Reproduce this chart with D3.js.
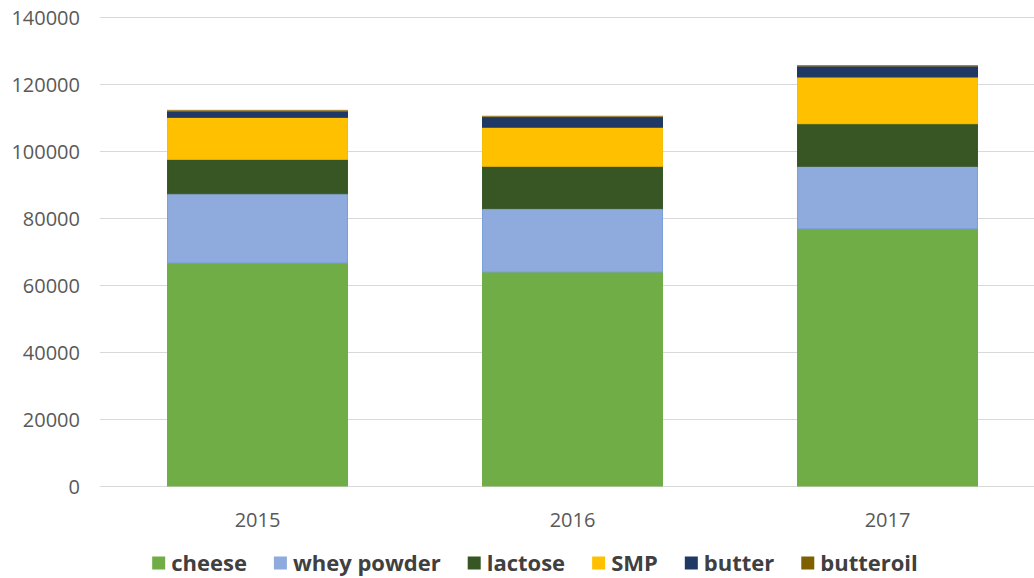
<!DOCTYPE html>
<html>
<head>
<meta charset="utf-8">
<script src="https://d3js.org/d3.v7.min.js"></script>
<style>
    body { margin: 0; background: #fff; }
    .axis text { font-family: "Open Sans", sans-serif; font-size: 20px; fill: #595959; }
    .legend text { font-family: "Open Sans", sans-serif; font-size: 22px; font-weight: bold; fill: #404040; }
</style>
</head>
<body>
<script>
    // data (tonnes)
    const years = ["2015", "2016", "2017"];
    const series = ["cheese", "whey powder", "lactose", "SMP", "butter", "butteroil"];
    const cheese = [66600, 63900, 76800];
    const wheyPowder = [20650, 18900, 18630];
    const lactose = [10270, 12650, 12720];
    const smp = [12540, 11650, 13940];
    const butter = [1880, 3160, 3280];
    const butteroil = [200, 120, 150];
    const yTicks = [0, 20000, 40000, 60000, 80000, 100000, 120000, 140000];
    const colors = ["#70ad47", "#8faadc", "#375623", "#ffc000", "#203864", "#7f6000"];
    const strokes = ["#70ad47", "#7b9fdc", "#3b5a2a", "#f5bd0a", "#203864", "#a08a40"];

    const values = [cheese, wheyPowder, lactose, smp, butter, butteroil];
    const rows = years.map((y, i) => {
        const r = { year: y };
        series.forEach((s, k) => r[s] = values[k][i]);
        return r;
    });

    const width = 1034, height = 578;
    const svg = d3.select("body").append("svg")
        .attr("width", width)
        .attr("height", height);

    const x = d3.scaleBand()
        .domain(years)
        .range([100, 1045])
        .paddingInner(0.4286)
        .paddingOuter(0.2143);

    const y = d3.scaleLinear()
        .domain([0, 140000])
        .range([486, 17]);

    // gridlines
    svg.append("g")
        .selectAll("line")
        .data(yTicks)
        .join("line")
        .attr("x1", 100)
        .attr("x2", width)
        .attr("y1", d => Math.round(y(d)) + 0.5)
        .attr("y2", d => Math.round(y(d)) + 0.5)
        .attr("stroke", "#d9d9d9")
        .attr("stroke-width", 1);

    const yAxis = d3.axisLeft(y).tickValues(yTicks).tickSize(0).tickPadding(0).tickFormat(d3.format("d"));
    svg.append("g")
        .attr("class", "axis")
        .attr("transform", "translate(80,0)")
        .call(yAxis)
        .call(g => g.select(".domain").remove())
        .selectAll("text").attr("dy", "0.35em");

    const stack = d3.stack().keys(series)(rows);

    svg.append("g")
        .selectAll("g")
        .data(stack)
        .join("g")
        .attr("fill", (d, i) => colors[i])
        .attr("stroke", (d, i) => strokes[i])
        .attr("stroke-width", 1)
        .selectAll("rect")
        .data(d => d)
        .join("rect")
        .attr("x", d => x(d.data.year))
        .attr("width", x.bandwidth())
        .attr("y", d => y(d[1]))
        .attr("height", d => Math.max(0.3, y(d[0]) - y(d[1])));

    const xAxis = d3.axisBottom(x).tickSize(0).tickPadding(0);
    svg.append("g")
        .attr("class", "axis")
        .attr("transform", "translate(0,520)")
        .call(xAxis)
        .call(g => g.select(".domain").remove())
        .selectAll("text").attr("dy", "0.35em");

    // legend
    const legend = svg.append("g").attr("class", "legend");
    const items = legend.selectAll("g")
        .data(series)
        .join("g");
    items.append("rect")
        .attr("width", 13)
        .attr("height", 13)
        .attr("y", -6.5)
        .attr("fill", (d, i) => colors[i]);
    items.append("text")
        .attr("x", 19)
        .attr("dy", "0.35em")
        .text(d => d);

    let offset = 0;
    const gap = 27;
    items.each(function () {
        const w = 19 + this.querySelector("text").getComputedTextLength();
        d3.select(this).attr("transform", `translate(${offset},0)`);
        offset += w + gap;
    });
    const total = offset - gap;
    legend.attr("transform", `translate(${535 - total / 2},563)`);
</script>
</body>
</html>
